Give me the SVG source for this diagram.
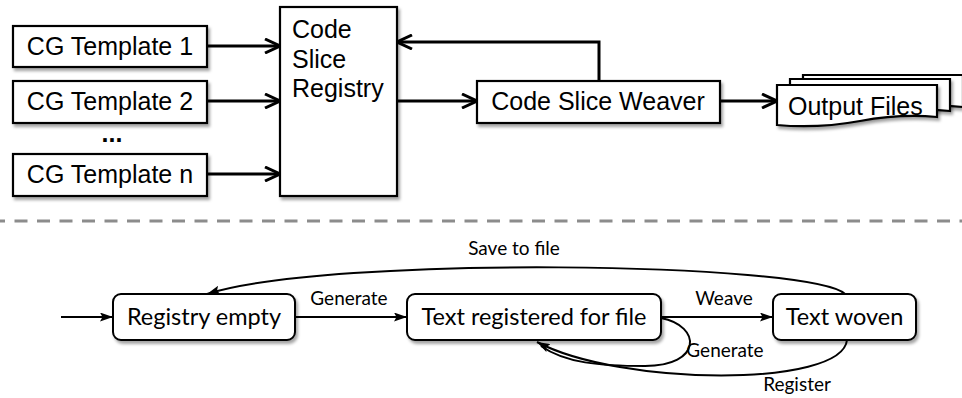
<svg xmlns="http://www.w3.org/2000/svg" width="962" height="398" viewBox="0 0 962 398">
<defs>
<filter id="sh" x="-10%" y="-10%" width="130%" height="140%">
<feDropShadow dx="2" dy="3" stdDeviation="1.8" flood-color="#000" flood-opacity="0.35"/>
</filter>
<marker id="open" viewBox="0 0 17 16" refX="16" refY="8" markerWidth="17" markerHeight="16" markerUnits="userSpaceOnUse" orient="auto">
<path d="M1,1 L16,8 L1,15" fill="none" stroke="#000" stroke-width="3" stroke-linejoin="miter"/>
</marker>
<marker id="tri" viewBox="0 0 13 9" refX="13" refY="4.5" markerWidth="13" markerHeight="9" markerUnits="userSpaceOnUse" orient="auto">
<path d="M0,0 L13,4.5 L0,9 L2.5,4.5 Z" fill="#000"/>
</marker>
</defs>
<style>
.box{fill:#fff;stroke:#000;stroke-width:2.2;filter:url(#sh)}
.rbox{fill:#fff;stroke:#000;stroke-width:2;filter:url(#sh)}
.t{font-family:"Liberation Sans",Arial,sans-serif;font-size:25px;fill:#000}
.c{font-family:Lato,"Open Sans",sans-serif;font-size:23.5px;fill:#000}
.l{font-family:Lato,"Open Sans",sans-serif;font-size:19px;fill:#000}
.a{fill:none;stroke:#000;stroke-width:3;marker-end:url(#open)}
.b{fill:none;stroke:#000;stroke-width:2;marker-end:url(#tri)}
.b2{fill:none;stroke:#000;stroke-width:2}
</style>

<g id="tpl1"><rect class="box" x="13" y="26" width="194" height="41"/><text class="t" x="110" y="55" text-anchor="middle">CG Template 1</text></g>
<g id="tpl2"><rect class="box" x="13" y="81" width="194" height="42"/><text class="t" x="110" y="110" text-anchor="middle">CG Template 2</text></g>
<g id="dots"><text class="t" x="112" y="142" text-anchor="middle" font-weight="bold">...</text></g>
<g id="tpln"><rect class="box" x="13" y="154" width="194" height="42"/><text class="t" x="110" y="183" text-anchor="middle">CG Template n</text></g>
<g id="registry"><rect class="box" x="280" y="7" width="117" height="189"/>
<text class="t" x="292" y="38">Code</text><text class="t" x="292" y="68">Slice</text><text class="t" x="292" y="97">Registry</text></g>
<g id="weaver"><rect class="box" x="477" y="81" width="243" height="42"/><text class="t" x="598" y="110" text-anchor="middle">Code Slice Weaver</text></g>
<g id="output">
<path class="box" transform="translate(26,-10)" d="M777,85 H937 V117 C905,114 882,117 860,121 C838,125 810,128 777,125 Z"/>
<path class="box" transform="translate(13,-6)" d="M777,85 H937 V117 C905,114 882,117 860,121 C838,125 810,128 777,125 Z"/>
<path class="box" d="M777,85 H937 V117 C905,114 882,117 860,121 C838,125 810,128 777,125 Z"/>
<text class="t" x="788" y="115">Output Files</text>
</g>

<g id="top-connectors">
<path class="a" d="M207,46 H280"/>
<path class="a" d="M207,101 H280"/>
<path class="a" d="M207,174 H280"/>
<path class="a" d="M397,101 H477"/>
<path class="a" d="M599,81 V42 H397"/>
<path class="a" d="M720,101 H777"/>
</g>

<line id="separator" x1="0" y1="221" x2="962" y2="221" stroke="#8c8c8c" stroke-width="3" stroke-dasharray="13 9.5" stroke-dashoffset="8"/>

<g id="s-empty"><rect class="rbox" x="113" y="294" width="182" height="46" rx="8"/><text class="c" x="204" y="325" text-anchor="middle">Registry empty</text></g>
<g id="s-registered"><rect class="rbox" x="407" y="294" width="254" height="46" rx="8"/><text class="c" x="534" y="325" text-anchor="middle">Text registered for file</text></g>
<g id="s-woven"><rect class="rbox" x="773" y="294" width="143" height="46" rx="8"/><text class="c" x="844.5" y="325" text-anchor="middle">Text woven</text></g>

<g id="bottom-connectors">
<path class="b" d="M61,317 H113"/>
<path class="b" d="M295,317 H407"/>
<path class="b" d="M661,317 H773"/>
<path class="b" d="M845,294 C810,262 330,255 207,294"/>
<path class="b2" d="M661,318 C702,326 702,366 645,366 C600,366 565,363 541,346"/>
<path class="b" d="M847,340 C842,388 620,386 537,342"/>
</g>
<g id="labels">
<text class="l" x="349" y="305" text-anchor="middle">Generate</text>
<text class="l" x="724" y="305" text-anchor="middle">Weave</text>
<text class="l" x="514" y="255" text-anchor="middle">Save to file</text>
<text class="l" x="725" y="357" text-anchor="middle">Generate</text>
<text class="l" x="797" y="391" text-anchor="middle">Register</text>
</g>
</svg>
